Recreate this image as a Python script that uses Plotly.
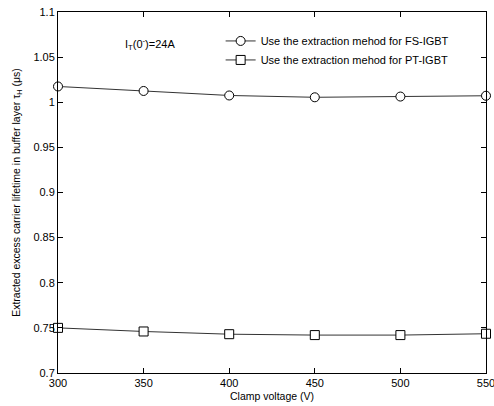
import plotly.graph_objects as go

# Clamp voltage sweep (V)
clamp_voltage = [300, 350, 400, 450, 500, 550]
# Extracted buffer-layer carrier lifetime (us)
tau_fs = [1.0175, 1.0125, 1.0075, 1.0055, 1.0063, 1.0072]
tau_pt = [0.750, 0.746, 0.743, 0.742, 0.742, 0.7435]

x_ticks = [300, 350, 400, 450, 500, 550]
y_ticks = [0.7, 0.75, 0.8, 0.85, 0.9, 0.95, 1.0, 1.05, 1.1]
y_tick_text = ["0.7", "0.75", "0.8", "0.85", "0.9", "0.95", "1", "1.05", "1.1"]

font_family = "Liberation Sans, Arial, sans-serif"

fig = go.Figure()
fig.add_trace(go.Scatter(
    x=clamp_voltage, y=tau_fs, mode="lines+markers",
    name="Use the extraction mehod for FS-IGBT",
    line=dict(color="#333333", width=1),
    marker=dict(symbol="circle", size=9, color="white",
                line=dict(color="black", width=1)),
    cliponaxis=False,
))
fig.add_trace(go.Scatter(
    x=clamp_voltage, y=tau_pt, mode="lines+markers",
    name="Use the extraction mehod for PT-IGBT",
    line=dict(color="#333333", width=1),
    marker=dict(symbol="square", size=9, color="white",
                line=dict(color="black", width=1)),
    cliponaxis=False,
))

fig.add_annotation(
    x=0.152, y=0.91, xref="paper", yref="paper",
    text="I<sub>T</sub>(0<sup>-</sup>)=24A", showarrow=False,
    xanchor="left", yanchor="middle",
    font=dict(family=font_family, size=11, color="black"),
)

axis_common = dict(
    showline=True, linecolor="black", linewidth=1, mirror="ticks",
    ticks="inside", ticklen=5, tickcolor="black",
    showgrid=False, zeroline=False,
    tickfont=dict(family=font_family, size=11, color="black"),
    ticklabeloverflow="allow", automargin=False,
)

fig.update_xaxes(
    range=[300, 550], tickvals=x_ticks,
    title=dict(text="Clamp voltage (V)", standoff=4,
               font=dict(family=font_family, size=10.5, color="black")),
    **axis_common,
)
fig.update_yaxes(
    range=[0.7, 1.1], tickvals=y_ticks, ticktext=y_tick_text,
    title=dict(text="Extracted excess carrier lifetime in buffer layer τ<sub>H</sub> (μs)",
               standoff=10,
               font=dict(family=font_family, size=10.5, color="black")),
    **axis_common,
)

fig.update_layout(
    width=494, height=406,
    margin=dict(l=58, r=8, t=12, b=33, autoexpand=False),
    paper_bgcolor="white", plot_bgcolor="white",
    font=dict(family=font_family, color="black"),
    showlegend=True,
    legend=dict(
        x=0.38, y=0.96, xanchor="left", yanchor="top",
        bgcolor="rgba(0,0,0,0)", borderwidth=0,
        font=dict(family=font_family, size=11, color="black"),
        tracegroupgap=0, itemwidth=30,
    ),
)

fig.write_html("out.html")
